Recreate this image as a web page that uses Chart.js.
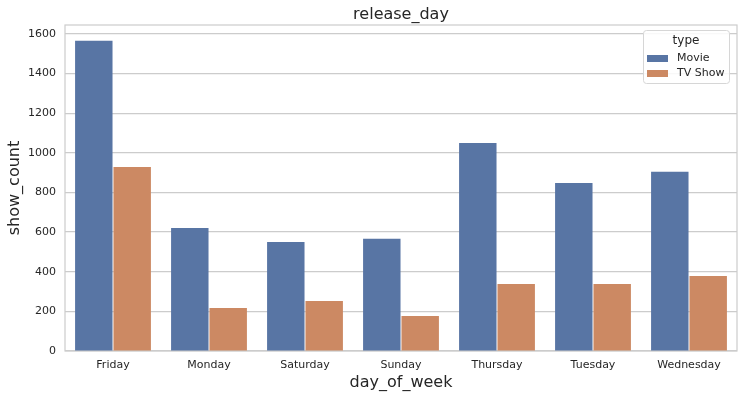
<!DOCTYPE html>
<html lang="en">
<head>
  <meta charset="UTF-8">
  <title>release_day</title>
  <script src="https://cdn.jsdelivr.net/npm/chart.js"></script>
  <style>
    html, body { margin: 0; padding: 0; background: #fff; }
    #wrap { width: 741px; height: 398px; }
  </style>
</head>
<body>
  <div id="wrap"><canvas id="chart" width="741" height="398"></canvas></div>
  <script>
    // data
    const days = ['Friday', 'Monday', 'Saturday', 'Sunday', 'Thursday', 'Tuesday', 'Wednesday'];
    const movieCounts = [1566, 621, 550, 566, 1050, 848, 904];
    const tvShowCounts = [929, 217, 252, 177, 338, 338, 379];
    const yTicks = [0, 200, 400, 600, 800, 1000, 1200, 1400, 1600];

    const FONT = "'DejaVu Sans', sans-serif";
    const TEXT = '#262626';
    const GRID = '#cccccc';

    // frame, title and in-plot legend (seaborn style)
    const decor = {
      id: 'decor',
      beforeDatasetsDraw(chart) {
        const { ctx, chartArea: a } = chart;
        ctx.save();
        ctx.strokeStyle = GRID;
        ctx.lineWidth = 1.2;
        ctx.strokeRect(a.left, a.top, a.right - a.left, a.bottom - a.top);
        ctx.restore();
      },
      afterDraw(chart) {
        const { ctx, chartArea: a } = chart;
        ctx.save();
        // title
        ctx.fillStyle = TEXT;
        ctx.font = '16px ' + FONT;
        ctx.textAlign = 'center';
        ctx.textBaseline = 'middle';
        ctx.fillText('release_day', (a.left + a.right) / 2, 15);

        // legend box
        const bx = 643, by = 30, bw = 86, bh = 53;
        ctx.fillStyle = 'rgba(255,255,255,0.85)';
        ctx.strokeStyle = '#d6d6d6';
        ctx.lineWidth = 1;
        ctx.beginPath();
        ctx.roundRect(bx + 0.5, by + 0.5, bw, bh, 3);
        ctx.fill();
        ctx.stroke();

        ctx.fillStyle = TEXT;
        ctx.font = '12px ' + FONT;
        ctx.textAlign = 'center';
        ctx.fillText('type', bx + bw / 2, 41);

        ctx.font = '11px ' + FONT;
        ctx.textAlign = 'left';
        chart.data.datasets.forEach((ds, i) => {
          const cy = 58 + i * 15;
          ctx.fillStyle = ds.backgroundColor;
          ctx.fillRect(647, cy - 3, 21, 7);
          ctx.fillStyle = TEXT;
          ctx.fillText(ds.label, 677, cy + 0.5);
        });
        ctx.restore();
      }
    };

    new Chart(document.getElementById('chart'), {
      type: 'bar',
      data: {
        labels: days,
        datasets: [
          { label: 'Movie', data: movieCounts, backgroundColor: '#5875a4' },
          { label: 'TV Show', data: tvShowCounts, backgroundColor: '#cc8963' }
        ]
      },
      options: {
        responsive: false,
        animation: false,
        layout: { padding: { top: 25, right: 4, left: 0, bottom: 0 } },
        datasets: {
          bar: { categoryPercentage: 0.8, barPercentage: 0.975 }
        },
        plugins: {
          legend: { display: false },
          title: { display: false },
          tooltip: { enabled: false }
        },
        scales: {
          x: {
            grid: { display: false, drawTicks: false },
            border: { display: false },
            ticks: { color: TEXT, font: { family: FONT, size: 11 }, padding: 8 },
            title: {
              display: true, text: 'day_of_week', color: TEXT,
              font: { family: FONT, size: 16 }, padding: { top: 2, bottom: 6 }
            },
            afterFit(s) { s.height = 47; }
          },
          y: {
            min: 0,
            max: 1645,
            afterBuildTicks(s) { s.ticks = yTicks.map(v => ({ value: v })); },
            grid: { color: GRID, lineWidth: 1.2, drawTicks: false },
            border: { display: false },
            ticks: {
              color: TEXT, font: { family: FONT, size: 11 }, padding: 9,
              callback: v => String(v)
            },
            title: {
              display: true, text: 'show_count', color: TEXT,
              font: { family: FONT, size: 16 }, padding: { top: 5, bottom: 4 }
            },
            afterFit(s) { s.width = 65; }
          }
        }
      },
      plugins: [decor]
    });
  </script>
</body>
</html>
